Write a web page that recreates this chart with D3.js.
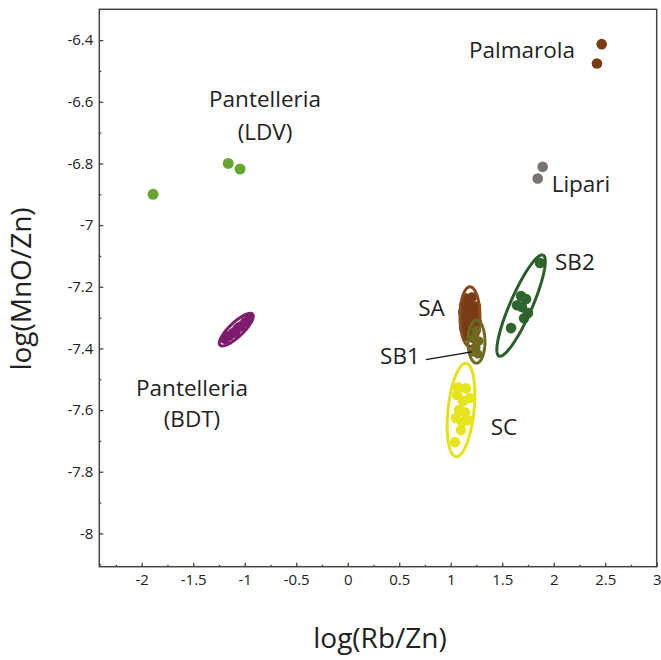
<!DOCTYPE html>
<html>
<head>
<meta charset="utf-8">
<script src="https://cdn.jsdelivr.net/npm/d3@7"></script>
<style>
  body { margin: 0; background: #fff; }
  text { font-family: "Open Sans", sans-serif; fill: #222; }
</style>
</head>
<body>
<div id="chart"></div>
<script>
// data: [log(Rb/Zn), log(MnO/Zn)]
let palmarola = [[2.466, -6.413], [2.42, -6.476]];
let lipari = [[1.893, -6.811], [1.845, -6.849]];
let pantelleriaLDV = [[-1.89, -6.90], [-1.16, -6.80], [-1.045, -6.818]];
let pantelleriaBDT = [[-1.191, -7.370], [-1.152, -7.360], [-1.114, -7.350], [-1.075, -7.337],
  [-1.036, -7.328], [-0.997, -7.315], [-0.958, -7.302], [-1.094, -7.350], [-1.055, -7.331]];
let groupSA = [[1.149, -7.237], [1.207, -7.234], [1.129, -7.260], [1.187, -7.256], [1.246, -7.263],
  [1.119, -7.282], [1.178, -7.282], [1.236, -7.289], [1.139, -7.308], [1.197, -7.311], [1.255, -7.315],
  [1.129, -7.334], [1.187, -7.337], [1.246, -7.341], [1.158, -7.360], [1.216, -7.367]];
let groupSB1 = [[1.246, -7.341], [1.226, -7.367], [1.275, -7.376], [1.246, -7.396], [1.216, -7.412], [1.265, -7.418]];
let groupSB2 = [[1.867, -7.123], [1.683, -7.230], [1.731, -7.240], [1.644, -7.260], [1.692, -7.266],
  [1.750, -7.285], [1.712, -7.302], [1.586, -7.334]];
let groupSC = [[1.071, -7.526], [1.148, -7.529], [1.061, -7.551], [1.120, -7.571], [1.187, -7.561],
  [1.081, -7.600], [1.139, -7.607], [1.051, -7.626], [1.109, -7.639], [1.168, -7.633], [1.100, -7.665], [1.042, -7.704]];

// ellipses: centre plus two semi-axis vectors, in data units
let ellipseSA = { cx: 1.187, cy: -7.297, ax: 0, ay: 0.097, bx: 0.097, by: 0 };
let ellipseSB1 = { cx: 1.250, cy: -7.378, ax: 0, ay: 0.0697, bx: 0.0825, by: 0 };
let ellipseSB2 = { cx: 1.683, cy: -7.261, ax: 0.2136, ay: 0.1638, bx: 0.098, by: -0.0143 };
let ellipseSC = { cx: 1.100, cy: -7.600, ax: 0.0485, ay: 0.1515, bx: 0.1255, by: -0.0045 };
let ellipseBDT = { cx: -1.082, cy: -7.339, ax: 0.158, ay: 0.0503, bx: 0.0467, by: -0.0165 };

let xTicks = [-2, -1.5, -1, -0.5, 0, 0.5, 1, 1.5, 2, 2.5, 3];
let yTicks = [-6.4, -6.6, -6.8, -7, -7.2, -7.4, -7.6, -7.8, -8];

// set SVG height, width, and margins
let svgWidth = 661;
let svgHeight = 660;
let margin = { top: 9.3, right: 4.3, bottom: 93.3, left: 99.3 };
let width = svgWidth - margin.left - margin.right;
let height = svgHeight - margin.top - margin.bottom;

let svg = d3.select("#chart")
  .append("svg")
  .attr("width", svgWidth)
  .attr("height", svgHeight);

let chartGroup = svg.append("g")
  .attr("transform", `translate(${margin.left}, ${margin.top})`);

let x = d3.scaleLinear().domain([-2.412, 3]).range([0, width]);
let y = d3.scaleLinear().domain([-8.108, -6.3]).range([height, 0]);

// plain hyphen for negatives, like the original
let fmt = d => String(d);

// axes, ticks pointing inward
let xMinor = d3.range(-2.25, 3, 0.5);
let yMinor = d3.range(-6.5, -8.15, -0.2);

chartGroup.append("g")
  .attr("transform", `translate(0, ${height})`)
  .call(d3.axisBottom(x).tickValues(xMinor).tickSize(-2).tickFormat(""))
  .call(g => g.select(".domain").remove());

chartGroup.append("g")
  .attr("transform", `translate(0, ${height})`)
  .call(d3.axisBottom(x).tickValues(xTicks).tickSize(-4).tickPadding(8).tickFormat(fmt))
  .call(g => g.select(".domain").remove())
  .call(g => g.selectAll("text").style("font-size", "15px"));

chartGroup.append("g")
  .call(d3.axisLeft(y).tickValues(yMinor).tickSize(-2).tickFormat(""))
  .call(g => g.select(".domain").remove());

chartGroup.append("g")
  .call(d3.axisLeft(y).tickValues(yTicks).tickSize(-4).tickPadding(6).tickFormat(fmt))
  .call(g => g.select(".domain").remove())
  .call(g => g.selectAll("text").style("font-size", "15px"));

chartGroup.selectAll(".tick line").attr("stroke", "#444").attr("stroke-width", 1.3);

// frame
chartGroup.append("rect")
  .attr("x", 0).attr("y", 0)
  .attr("width", width).attr("height", height)
  .attr("fill", "none")
  .attr("stroke", "#444")
  .attr("stroke-width", 1.5);

// axis titles
svg.append("text")
  .attr("x", 380).attr("y", 648)
  .attr("text-anchor", "middle")
  .style("font-size", "28px")
  .text("log(Rb/Zn)");

svg.append("text")
  .attr("transform", "translate(31, 289) rotate(-90)")
  .attr("text-anchor", "middle")
  .style("font-size", "28px")
  .text("log(MnO/Zn)");

// ellipse path from centre + conjugate vectors
function ellipsePath(e) {
  let pts = d3.range(0, 2 * Math.PI + 0.01, Math.PI / 60).map(t => [
    x(e.cx + e.ax * Math.cos(t) + e.bx * Math.sin(t)),
    y(e.cy + e.ay * Math.cos(t) + e.by * Math.sin(t))
  ]);
  return d3.line()(pts);
}

function drawPoints(data, color, r) {
  chartGroup.append("g")
    .selectAll("circle")
    .data(data)
    .join("circle")
    .attr("cx", d => x(d[0]))
    .attr("cy", d => y(d[1]))
    .attr("r", r)
    .attr("fill", color);
}

function drawEllipse(e, color) {
  chartGroup.append("path")
    .attr("d", ellipsePath(e))
    .attr("fill", "none")
    .attr("stroke", color)
    .attr("stroke-width", 3);
}

drawPoints(palmarola, "#7b3b12", 5.3);
drawPoints(lipari, "#7a7372", 5.3);
drawPoints(pantelleriaLDV, "#66a82f", 5.5);

drawPoints(pantelleriaBDT, "#7d1c6c", 5);
drawEllipse(ellipseBDT, "#7d1c6c");

drawPoints(groupSA, "#7a3c14", 5);
drawEllipse(ellipseSA, "#8a4a1e");

drawPoints(groupSB1, "#6f6a1f", 4.5);
drawEllipse(ellipseSB1, "#6b6a22");

drawPoints(groupSB2, "#2f662d", 5.3);
drawEllipse(ellipseSB2, "#2c5e2b");

drawPoints(groupSC, "#e6e51d", 5.3);
drawEllipse(ellipseSC, "#e4e31a");

// annotations, anchored in data units
let labels = [
  { t: "Palmarola", x: 2.207, y: -6.459, a: "end" },
  { t: "Lipari", x: 1.98, y: -6.892, a: "start" },
  { t: "Pantelleria", x: -0.803, y: -6.616, a: "middle" },
  { t: "(LDV)", x: -0.803, y: -6.724, a: "middle" },
  { t: "Pantelleria", x: -1.512, y: -7.555, a: "middle" },
  { t: "(BDT)", x: -1.512, y: -7.655, a: "middle" },
  { t: "SA", x: 0.813, y: -7.295, a: "middle" },
  { t: "SB1", x: 0.70, y: -7.451, a: "end" },
  { t: "SB2", x: 2.013, y: -7.146, a: "start" },
  { t: "SC", x: 1.388, y: -7.681, a: "start" }
];

chartGroup.selectAll(".lbl")
  .data(labels)
  .join("text")
  .attr("class", "lbl")
  .attr("x", d => x(d.x))
  .attr("y", d => y(d.y))
  .attr("text-anchor", d => d.a)
  .style("font-size", "22.5px")
  .text(d => d.t);

// leader line for SB1
chartGroup.append("line")
  .attr("x1", x(0.76)).attr("y1", y(-7.436))
  .attr("x2", x(1.204)).attr("y2", y(-7.411))
  .attr("stroke", "#111")
  .attr("stroke-width", 1.3);
</script>
</body>
</html>
